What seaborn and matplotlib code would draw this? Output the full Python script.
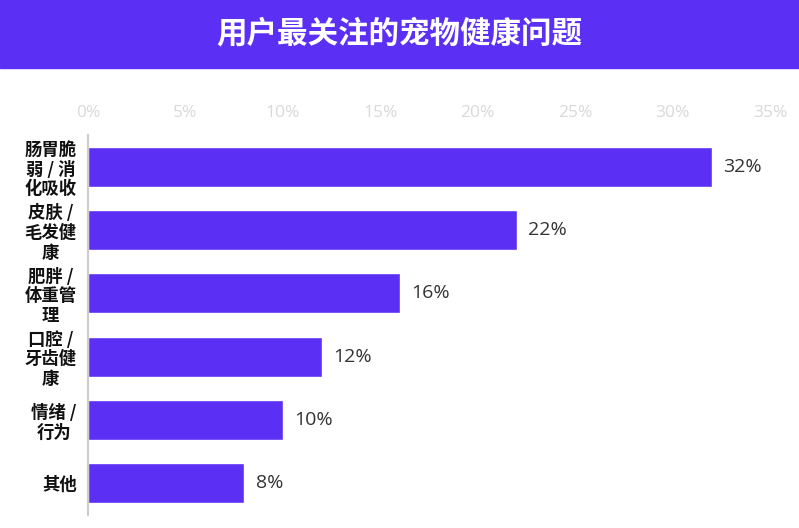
import pandas as pd
import seaborn as sns
import matplotlib.pyplot as plt
from matplotlib.patches import Rectangle

# 数据
categories = ["肠胃脆\n弱 / 消\n化吸收", "皮肤 /\n毛发健\n康", "肥胖 /\n体重管\n理",
              "口腔 /\n牙齿健\n康", "情绪 /\n行为", "其他"]
values = [32, 22, 16, 12, 10, 8]
xticks = [0, 5, 10, 15, 20, 25, 30, 35]

title = "用户最关注的宠物健康问题"
purple = "#5B30F4"

df = pd.DataFrame({"issue": categories, "pct": values})

sns.set_style("white")
plt.rcParams['font.family'] = ['Noto Sans CJK SC', 'DejaVu Sans']

fig = plt.figure(figsize=(7.99, 5.28), dpi=100)

# 顶部标题条
fig.patches.append(Rectangle((0, 0.871), 1, 0.129, transform=fig.transFigure,
                             color=purple, zorder=0))
fig.text(0.5, 0.936, title, ha='center', va='center', color='white',
         fontsize=22, fontweight='bold')

ax = fig.add_axes([0.110, 0.025, 0.854, 0.719])
sns.barplot(data=df, x="pct", y="issue", orient="h", color=purple,
            width=0.63, saturation=1, ax=ax)

ax.set_xlim(0, 35)
ax.set_ylim(5.5, -0.5)
ax.set_xticks(xticks)
ax.set_xticklabels([f"{t}%" for t in xticks], family=['Open Sans'])
ax.xaxis.tick_top()
ax.tick_params(axis='x', length=0, labelsize=12.5, labelcolor='#d9d9d9', pad=10)
ax.tick_params(axis='y', length=0, pad=8)
for lab in ax.get_yticklabels():
    lab.set_fontsize(12.5)
    lab.set_fontweight('bold')
    lab.set_color('#111111')
    lab.set_linespacing(1.12)
    lab.set_multialignment('center')
ax.set_xlabel("")
ax.set_ylabel("")

for s in ['top', 'right', 'bottom']:
    ax.spines[s].set_visible(False)
ax.spines['left'].set_color('#cccccc')
ax.spines['left'].set_linewidth(1.5)

# 数值标签
for i, v in enumerate(values):
    ax.text(v + 0.6, i, f"{v}%", va='center', ha='left', fontsize=14,
            color='#333333', family=['Open Sans'])

fig.savefig("out.png", dpi=100)
